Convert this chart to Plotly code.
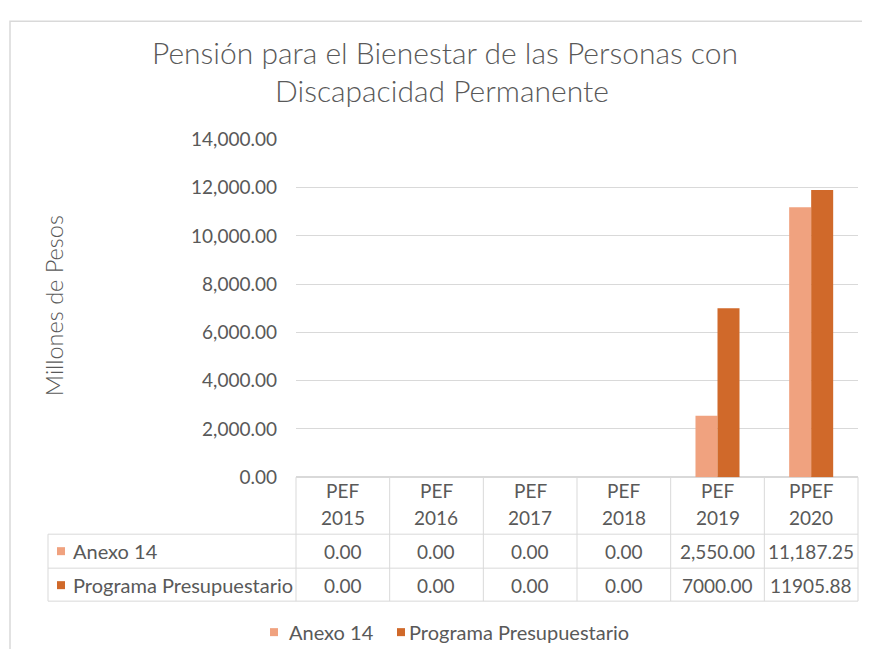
import plotly.graph_objects as go

categories = ["PEF 2015", "PEF 2016", "PEF 2017", "PEF 2018", "PEF 2019", "PPEF 2020"]
series_names = ["Anexo 14", "Programa Presupuestario"]
anexo14 = [0.0, 0.0, 0.0, 0.0, 2550.00, 11187.25]
programa = [0.0, 0.0, 0.0, 0.0, 7000.00, 11905.88]
y_ticks = [0, 2000, 4000, 6000, 8000, 10000, 12000, 14000]

OFF = 8
W, H = 870 - 2 * OFF, 657 - 2 * OFF
# measured vertical mapping of the photographed page (page-y -> picture-y)
VS, VB = 0.9645, 11.9
light = "#F0A27F"
dark = "#D0692A"
grid = "#D9D9D9"
txt = "#595959"
FONT = "Lato"
FS = 19

px_left, px_right = 296, 858
px_zero, px_top = 477, 139


def fx(px):
    return (px - OFF) / W


def fy(py):
    yd = (py - VB) / VS
    return 1 - (yd - OFF) / H


fig = go.Figure()
xs = list(range(len(categories)))
fig.add_trace(go.Bar(x=xs, y=anexo14, name=series_names[0], marker_color=light, marker_line_width=0))
fig.add_trace(go.Bar(x=xs, y=programa, name=series_names[1], marker_color=dark, marker_line_width=0))

shapes = []
annotations = []


def ann(text, x, y, size=FS, xanchor="center", weight="normal", **kw):
    annotations.append(dict(text=text, x=fx(x), y=fy(y), xref="paper", yref="paper", showarrow=False,
                            xanchor=xanchor, yanchor="middle",
                            font=dict(family=FONT, size=size, color=txt, weight=weight), **kw))


def hline(x0, x1, y):
    shapes.append(dict(type="line", xref="paper", yref="paper", x0=fx(x0), x1=fx(x1), y0=fy(y), y1=fy(y),
                       line=dict(color=grid, width=1)))


def vline(x, y0, y1):
    shapes.append(dict(type="line", xref="paper", yref="paper", x0=fx(x), x1=fx(x), y0=fy(y0), y1=fy(y1),
                       line=dict(color=grid, width=1)))


def square(x0, x1, yc, color):
    h = (x1 - x0) / 2
    shapes.append(dict(type="rect", xref="paper", yref="paper", x0=fx(x0), x1=fx(x1),
                       y0=fy(yc + h), y1=fy(yc - h), fillcolor=color, line=dict(width=0)))


# outer frame (top and left edges visible)
shapes.append(dict(type="rect", xref="paper", yref="paper", x0=fx(10), x1=fx(880), y0=-0.2, y1=0.998,
                   line=dict(color="#D9D9D9", width=1.5)))

# title
ann("Pensión para el Bienestar de las Personas con", 445, 52, size=30, weight=300)
ann("Discapacidad Permanente", 442, 90, size=30, weight=300)

# y-axis title
ann("Millones de Pesos", 54, 306, size=23.5, textangle=-90, weight=300)

# data table
n = len(categories)
colw = (px_right - px_left) / n
col_edges = [px_left + i * colw for i in range(n + 1)]
tbl_left = 48
for xe in col_edges:
    vline(xe, px_zero, 601)
vline(tbl_left, 534, 601)
for ry in (534, 568, 601):
    hline(tbl_left, px_right, ry)

for i, c in enumerate(categories):
    cx = (col_edges[i] + col_edges[i + 1]) / 2
    top, bottom = c.split(" ")
    ann(top, cx, 490)
    ann(bottom, cx, 517)

row_vals = [
    [f"{v:,.2f}" for v in anexo14],
    [f"{v:.2f}" for v in programa],
]
row_cy = [551, 585]
row_cols = [light, dark]
for r in range(2):
    square(57, 65, row_cy[r], row_cols[r])
    ann(series_names[r], 71, row_cy[r], size=20, xanchor="left")
    for i in range(n):
        cx = (col_edges[i] + col_edges[i + 1]) / 2
        ann(row_vals[r][i], cx, row_cy[r])

# legend
square(270, 278, 632, light)
ann(series_names[0], 287, 632, size=20, xanchor="left")
square(397, 405, 632, dark)
ann(series_names[1], 407, 632, size=20, xanchor="left")

fig.update_layout(
    width=W, height=H,
    margin=dict(l=0, r=0, t=0, b=0),
    paper_bgcolor="white", plot_bgcolor="white",
    barmode="group", bargap=0.53, bargroupgap=0,
    showlegend=False,
    shapes=shapes, annotations=annotations,
    font=dict(family=FONT, color=txt),
    xaxis=dict(domain=[fx(px_left), fx(px_right)], range=[-0.5, n - 0.5], showticklabels=False,
               showgrid=False, zeroline=False, showline=False, ticks=""),
    yaxis=dict(domain=[fy(px_zero), fy(px_top)], range=[0, 14000], tickvals=y_ticks, tickformat=",.2f",
               showgrid=True, gridcolor=grid, gridwidth=1, zeroline=True, zerolinecolor=grid,
               showline=False, ticks="", ticklabelstandoff=18,
               tickfont=dict(family=FONT, size=FS, color=txt)),
)

fig.write_html("out.html")
